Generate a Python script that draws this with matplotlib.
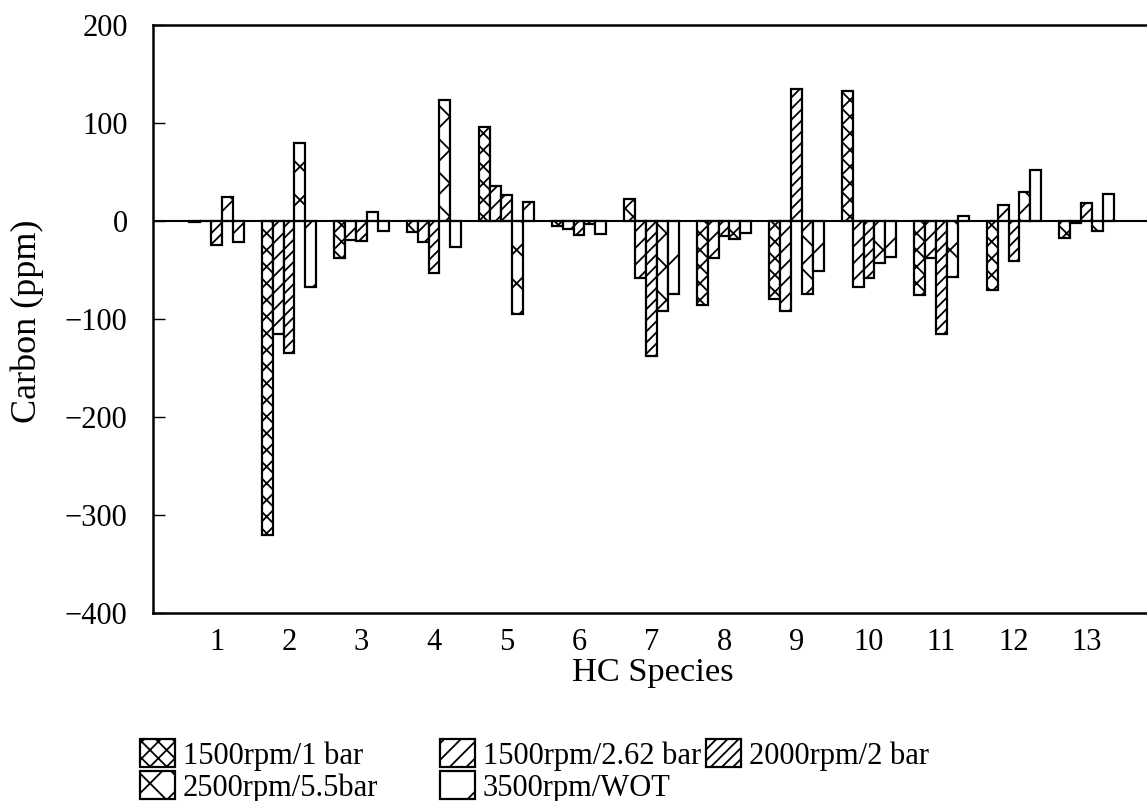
import matplotlib
matplotlib.use("Agg")
import matplotlib.pyplot as plt
import numpy as np
from matplotlib.patches import Patch

# ---- data ----
species = list(range(1, 14))
tick_labels = [str(s) for s in species]
series_labels = ["1500rpm/1 bar", "1500rpm/2.62 bar", "2000rpm/2 bar",
                 "2500rpm/5.5bar", "3500rpm/WOT"]
v_1500_1 = [-1, -320, -38, -11, 96, -5, 22, -86, -80, 133, -76, -70, -17]
v_1500_262 = [0, -115, -19, -21, 36, -8, -58, -38, -92, -67, -38, 16, -2]
v_2000_2 = [-24, -135, -20, -53, 27, -14, -138, -15, 135, -58, -115, -41, 18]
v_2500_55 = [24, 80, 9, 123, -95, -3, -92, -18, -75, -43, -57, 30, -10]
v_3500_wot = [-21, -67, -10, -27, 19, -13, -75, -12, -51, -37, 5, 52, 28]
y_ticks = [-400, -300, -200, -100, 0, 100, 200]

series = [v_1500_1, v_1500_262, v_2000_2, v_2500_55, v_3500_wot]
hatches = ["xxxx", "////", "//////", "xx", "/"]

plt.rcParams["font.family"] = ["Liberation Serif", "DejaVu Serif"]
plt.rcParams["hatch.color"] = "black"
plt.rcParams["hatch.linewidth"] = 0.65
plt.rcParams["axes.unicode_minus"] = True

W, H = 1147, 801
DPI = 200
fig = plt.figure(figsize=(W / DPI, H / DPI), dpi=DPI)
ax_left, ax_right, ax_top, ax_bot = 152.7, 1147, 25, 613
ax = fig.add_axes([ax_left / W, 1 - ax_bot / H, (ax_right - ax_left) / W, (ax_bot - ax_top) / H])

x = np.array(species, dtype=float)
width = 0.15
for i, (vals, h) in enumerate(zip(series, hatches)):
    ax.bar(x + (i - 2) * width, vals, width=width, facecolor="white",
           edgecolor="black", hatch=h, linewidth=0.8, label=series_labels[i], zorder=2)

ax.axhline(0, color="black", linewidth=0.75, zorder=3)
ax.set_xlim(0.12, 13.834)
ax.set_ylim(-400, 200)
ax.set_xticks(species)
ax.set_xticklabels(tick_labels)
ax.set_yticks(y_ticks)
ax.tick_params(axis="x", length=0, pad=5.5, labelsize=11)
ax.tick_params(axis="y", direction="in", length=4.3, width=0.5, pad=9, labelsize=11)
for s in ["left", "bottom", "top"]:
    ax.spines[s].set_linewidth(0.9)
ax.spines["right"].set_visible(False)

fig.text(27 / W, 1 - 321 / H, "Carbon (ppm)", rotation=90, ha="center", va="center", fontsize=13)
fig.text(653 / W, 1 - 673 / H, "HC Species", ha="center", va="center", fontsize=12.4)

# legend entries placed individually
legend_pos = [(140, 755), (440, 755), (706, 755), (140, 787), (440, 787)]
for i, (px, py) in enumerate(legend_pos):
    handle = Patch(facecolor="white", edgecolor="black", hatch=hatches[i], linewidth=0.8)
    fig.legend(handles=[handle], labels=[series_labels[i]], loc="center left",
               bbox_to_anchor=(px / W, 1 - py / H), frameon=False, fontsize=11,
               borderpad=0, borderaxespad=0, handletextpad=0.25,
               handlelength=1.15, handleheight=1.0)

fig.savefig("out.png", dpi=DPI)
